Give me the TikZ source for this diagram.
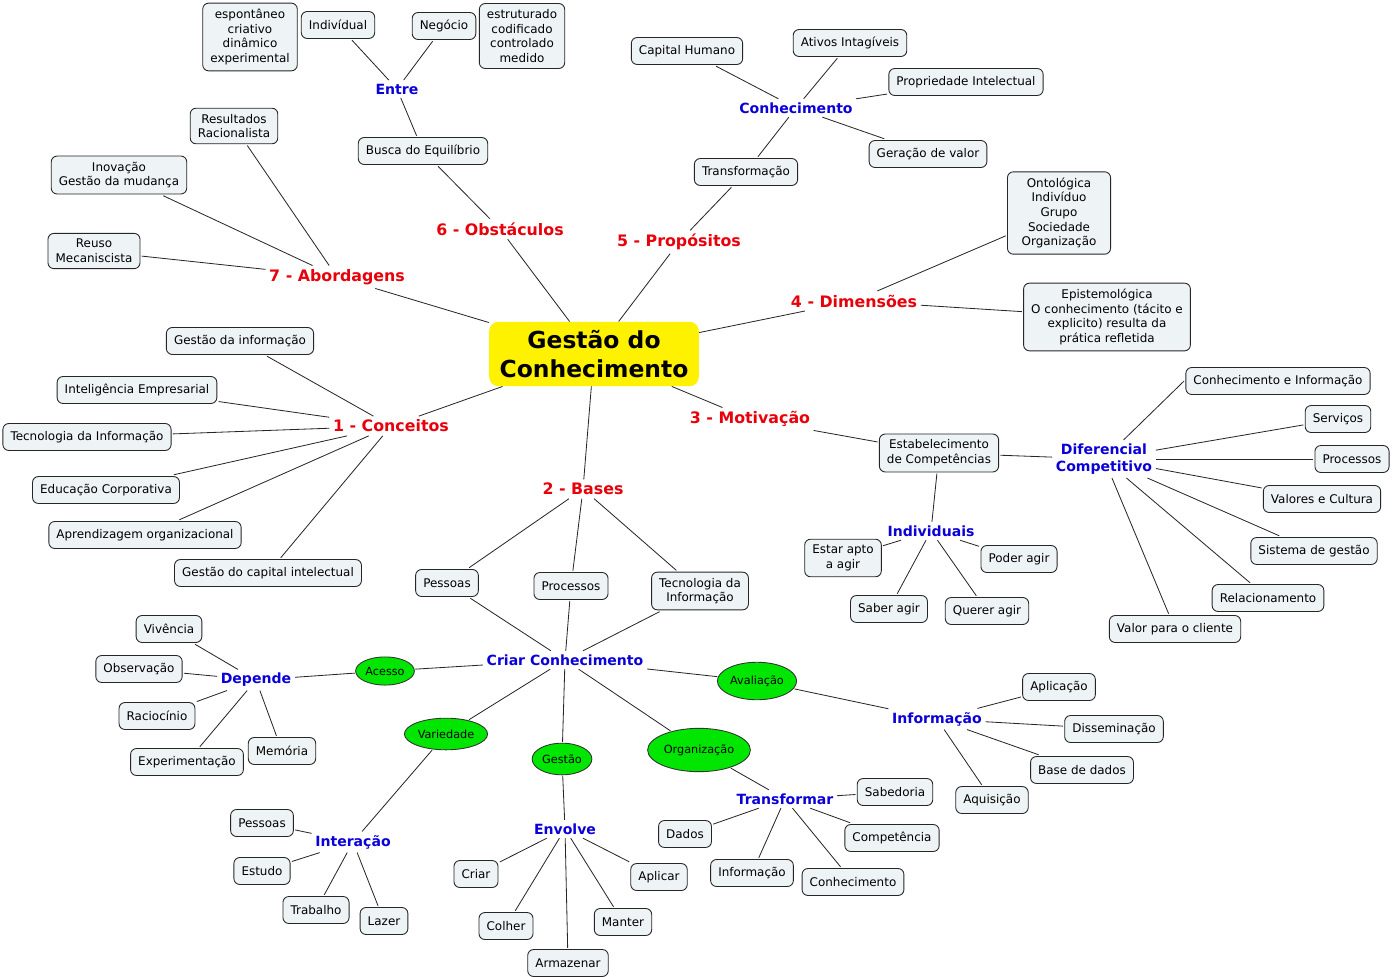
\documentclass[tikz,border=0pt]{standalone}
\usepackage{fontspec}
\setmainfont{DejaVu Sans}
\usepackage{xcolor}
\usepackage{tikz}
\usetikzlibrary{shapes, shapes.geometric, calc, positioning}

\definecolor{boxfill}{HTML}{EEF3F5}
\definecolor{topicred}{HTML}{E8000B}
\definecolor{subblue}{HTML}{0A00D8}
\definecolor{ovalgreen}{HTML}{00E600}

\begin{document}
\begin{tikzpicture}[
    x=0.03cm, y=-0.03cm,
    box/.style={draw=black!85, line width=0.75pt, fill=boxfill, rounded corners=5pt, align=center,
        inner xsep=6.5pt, inner ysep=5pt, minimum height=23pt, outer sep=1.5pt,
        font=\fontsize{10.2}{12.5}\selectfont},
    topic/.style={text=topicred, font=\bfseries\fontsize{13.5}{16}\selectfont, inner sep=3pt},
    sub/.style={text=subblue, align=center, font=\bfseries\fontsize{12}{14.5}\selectfont, inner sep=3pt},
    oval/.style={ellipse, draw=black!80, line width=0.75pt, fill=ovalgreen, inner sep=1pt, outer sep=1pt,
        font=\fontsize{9.6}{12}\selectfont},
    root/.style={fill=yellow, rounded corners=8pt, align=center, minimum width=179pt, minimum height=55pt,
        font=\bfseries\fontsize{20}{24.8}\selectfont},
    link/.style={black!85, line width=0.7pt}
]
\useasboundingbox (0,0) rectangle (1393,977);

% Centre
\node[root] (gestao) at (594,354) {Gestão do\\Conhecimento};

% Main topics
\node[topic] (obstaculos) at (500,229) {6 - Obstáculos};
\node[topic] (propositos) at (679,242) {5 - Propósitos};
\node[topic] (abordagens) at (337,277) {7 - Abordagens};
\node[topic] (dimensoes)  at (854,301) {4 - Dimensões};
\node[topic] (conceitos)  at (391,426) {1 - Conceitos};
\node[topic] (motivacao)  at (750,419) {3 - Motivação};
\node[topic] (bases)      at (583,489) {2 - Bases};

% 6 - Obstaculos
\node[box] (equilibrio)  at (423,151) {Busca do Equilíbrio};
\node[sub] (entre)       at (397,89) {Entre};
\node[box] (individual)  at (338,25) {Indivídual};
\node[box] (negocio)     at (444,26) {Negócio};
\node[box] (espontaneo)  at (250,37) {espontâneo\\criativo\\dinâmico\\experimental};
\node[box] (estruturado) at (522,36) {estruturado\\codificado\\controlado\\medido};

% 7 - Abordagens
\node[box] (resultados) at (234,126) {Resultados\\Racionalista};
\node[box] (inovacao)   at (119,175) {Inovação\\Gestão da mudança};
\node[box] (reuso)      at (94,251) {Reuso\\Mecaniscista};

% 5 - Propositos
\node[box] (transformacao) at (746,172) {Transformação};
\node[sub] (conhecimento)  at (796,108) {Conhecimento};
\node[box] (capital)       at (687,51) {Capital Humano};
\node[box] (ativos)        at (850,43) {Ativos Intagíveis};
\node[box] (propriedade)   at (966,82) {Propriedade Intelectual};
\node[box] (geracao)       at (928,154) {Geração de valor};

% 4 - Dimensoes
\node[box, minimum width=88pt] (ontologica) at (1059,213) {Ontológica\\Indivíduo\\Grupo\\Sociedade\\Organização};
\node[box] (epistemologica)  at (1107,317) {Epistemológica\\O conhecimento (tácito e\\explicito) resulta da\\prática refletida};

% 1 - Conceitos
\node[box] (gestao_info)   at (240,341) {Gestão da informação};
\node[box] (inteligencia)  at (137,390) {Inteligência Empresarial};
\node[box] (ti_conceitos)  at (87,437) {Tecnologia da Informação};
\node[box] (educacao)      at (106,490) {Educação Corporativa};
\node[box] (aprendizagem)  at (145,535) {Aprendizagem organizacional};
\node[box] (capital_int)   at (268,573) {Gestão do capital intelectual};

% 3 - Motivacao
\node[box] (competencias) at (939,453) {Estabelecimento\\de Competências};
\node[sub] (individuais)  at (931,531) {Individuais};
\node[box] (estar_apto)   at (843,558) {Estar apto\\a agir};
\node[box] (poder)        at (1019,559) {Poder agir};
\node[box] (saber)        at (889,609) {Saber agir};
\node[box] (querer)       at (987,611) {Querer agir};
\node[sub] (diferencial)  at (1104,459) {Diferencial\\Competitivo};
\node[box] (conh_info)    at (1278,381) {Conhecimento e Informação};
\node[box] (servicos)     at (1338,419) {Serviços};
\node[box] (processos_dif) at (1352,459) {Processos};
\node[box] (valores)      at (1322,499) {Valores e Cultura};
\node[box] (sistema)      at (1314,551) {Sistema de gestão};
\node[box] (relacionamento) at (1268,598) {Relacionamento};
\node[box] (valor_cliente)  at (1175,629) {Valor para o cliente};

% 2 - Bases
\node[box] (pessoas_bases)   at (447,583) {Pessoas};
\node[box] (processos_bases) at (571,586) {Processos};
\node[box] (ti_bases)        at (700,591) {Tecnologia da\\Informação};
\node[sub] (criar)           at (565,660) {Criar Conhecimento};

% Criar Conhecimento
\node[oval, minimum width=50pt, minimum height=24pt] (acesso)      at (385,671) {Acesso};
\node[oval, minimum width=67pt, minimum height=27pt] (variedade)   at (446,734) {Variedade};
\node[oval, minimum width=51pt, minimum height=27pt] (gestao_oval) at (562,759) {Gestão};
\node[oval, minimum width=79pt, minimum height=37pt] (organizacao) at (699,750) {Organização};
\node[oval, minimum width=65pt, minimum height=32pt] (avaliacao)   at (757,681) {Avaliação};

% Acesso
\node[sub] (depende)        at (256,680) {Depende};
\node[box] (vivencia)       at (169,629) {Vivência};
\node[box] (observacao)     at (139,669) {Observação};
\node[box] (raciocinio)     at (157,716) {Raciocínio};
\node[box] (experimentacao) at (187,762) {Experimentação};
\node[box] (memoria)        at (282,751) {Memória};

% Avaliacao
\node[sub] (informacao)   at (937,719) {Informação};
\node[box] (aplicacao)    at (1059,687) {Aplicação};
\node[box] (disseminacao) at (1114,729) {Disseminação};
\node[box] (base_dados)   at (1082,770) {Base de dados};
\node[box] (aquisicao)    at (992,800) {Aquisição};

% Organizacao
\node[sub] (transformar)   at (785,799) {Transformar};
\node[box] (sabedoria)     at (895,792) {Sabedoria};
\node[box] (competencia)   at (892,838) {Competência};
\node[box] (dados)         at (685,834) {Dados};
\node[box] (info_transf)   at (752,873) {Informação};
\node[box] (conh_transf)   at (853,882) {Conhecimento};

% Variedade
\node[sub] (interacao)       at (353,842) {Interação};
\node[box] (pessoas_inter)   at (262,823) {Pessoas};
\node[box] (estudo)          at (262,871) {Estudo};
\node[box] (trabalho)        at (316,910) {Trabalho};
\node[box] (lazer)           at (384,921) {Lazer};

% Gestao
\node[sub] (envolve)    at (565,829) {Envolve};
\node[box] (criar_b)    at (476,874) {Criar};
\node[box] (colher)     at (506,926) {Colher};
\node[box] (armazenar)  at (568,963) {Armazenar};
\node[box] (manter)     at (623,922) {Manter};
\node[box] (aplicar)    at (659,877) {Aplicar};

% Centre to topics
\draw[link] (gestao) -- (obstaculos);
\draw[link] (gestao) -- (propositos);
\draw[link] (gestao) -- (abordagens);
\draw[link] (gestao) -- (dimensoes);
\draw[link] (gestao) -- (conceitos);
\draw[link] (gestao) -- (motivacao);
\draw[link] (gestao) -- (bases);

% Obstaculos branch
\draw[link] (obstaculos) -- (equilibrio);
\draw[link] (equilibrio) -- (entre);
\draw[link] (entre) -- (individual);
\draw[link] (entre) -- (negocio);

% Abordagens branch
\draw[link] (abordagens) -- (resultados);
\draw[link] (abordagens) -- (inovacao);
\draw[link] (abordagens) -- (reuso);

% Propositos branch
\draw[link] (propositos) -- (transformacao);
\draw[link] (transformacao) -- (conhecimento);
\draw[link] (conhecimento) -- (capital);
\draw[link] (conhecimento) -- (ativos);
\draw[link] (conhecimento) -- (propriedade);
\draw[link] (conhecimento) -- (geracao);

% Dimensoes branch
\draw[link] (dimensoes) -- (ontologica);
\draw[link] (dimensoes) -- (epistemologica);

% Conceitos branch
\draw[link] (conceitos) -- (gestao_info);
\draw[link] (conceitos) -- (inteligencia);
\draw[link] (conceitos) -- (ti_conceitos);
\draw[link] (conceitos) -- (educacao);
\draw[link] (conceitos) -- (aprendizagem);
\draw[link] (conceitos) -- (capital_int);

% Motivacao branch
\draw[link] (motivacao) -- (competencias);
\draw[link] (competencias) -- (individuais);
\draw[link] (competencias) -- (diferencial);
\draw[link] (individuais) -- (estar_apto);
\draw[link] (individuais) -- (poder);
\draw[link] (individuais) -- (saber);
\draw[link] (individuais) -- (querer);
\draw[link] (diferencial) -- (conh_info.west);
\draw[link] (diferencial) -- (servicos);
\draw[link] (diferencial) -- (processos_dif);
\draw[link] (diferencial) -- (valores);
\draw[link] (diferencial) -- (sistema);
\draw[link] (diferencial) -- (relacionamento);
\draw[link] (diferencial) -- (valor_cliente);

% Bases branch
\draw[link] (bases) -- (pessoas_bases);
\draw[link] (bases) -- (processos_bases);
\draw[link] (bases) -- (ti_bases);
\draw[link] (pessoas_bases) -- (criar);
\draw[link] (processos_bases) -- (criar);
\draw[link] (ti_bases) -- (criar);

% Criar Conhecimento
\draw[link] (criar) -- (acesso);
\draw[link] (criar) -- (variedade);
\draw[link] (criar) -- (gestao_oval);
\draw[link] (criar) -- (organizacao);
\draw[link] (criar) -- (avaliacao);

\draw[link] (acesso) -- (depende);
\draw[link] (depende) -- (vivencia);
\draw[link] (depende) -- (observacao);
\draw[link] (depende) -- (raciocinio);
\draw[link] (depende) -- (experimentacao);
\draw[link] (depende) -- (memoria);

\draw[link] (avaliacao) -- (informacao);
\draw[link] (informacao) -- (aplicacao);
\draw[link] (informacao) -- (disseminacao);
\draw[link] (informacao) -- (base_dados);
\draw[link] (informacao) -- (aquisicao);

\draw[link] (organizacao) -- (transformar);
\draw[link] (transformar) -- (sabedoria);
\draw[link] (transformar) -- (competencia);
\draw[link] (transformar) -- (dados);
\draw[link] (transformar) -- (info_transf);
\draw[link] (transformar) -- (conh_transf);

\draw[link] (variedade) -- (interacao);
\draw[link] (interacao) -- (pessoas_inter);
\draw[link] (interacao) -- (estudo);
\draw[link] (interacao) -- (trabalho);
\draw[link] (interacao) -- (lazer);

\draw[link] (gestao_oval) -- (envolve);
\draw[link] (envolve) -- (criar_b);
\draw[link] (envolve) -- (colher);
\draw[link] (envolve) -- (armazenar);
\draw[link] (envolve) -- (manter);
\draw[link] (envolve) -- (aplicar);

\end{tikzpicture}
\end{document}
